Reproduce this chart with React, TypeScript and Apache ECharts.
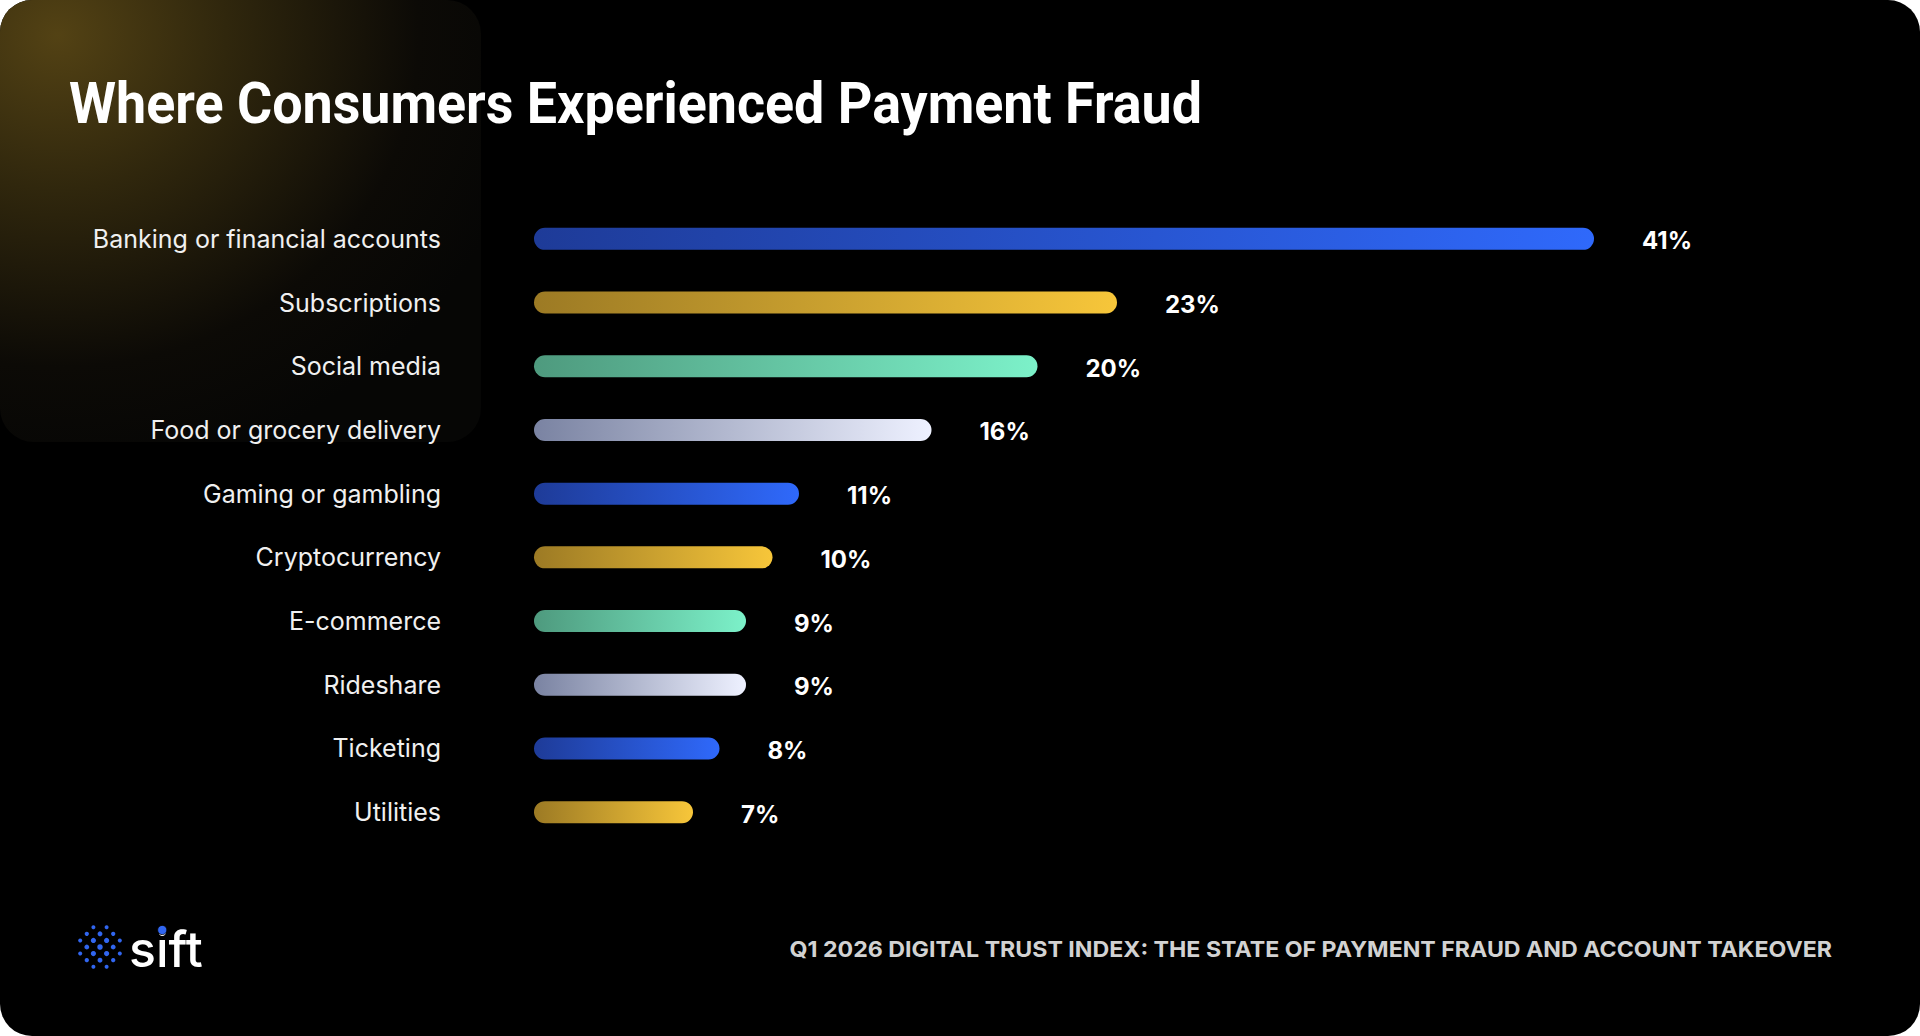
import React, { useEffect, useRef } from "react";
import * as echarts from "echarts";

const categories = [
  "Banking or financial accounts",
  "Subscriptions",
  "Social media",
  "Food or grocery delivery",
  "Gaming or gambling",
  "Cryptocurrency",
  "E-commerce",
  "Rideshare",
  "Ticketing",
  "Utilities",
];
const values = [41, 23, 20, 16, 11, 10, 9, 9, 8, 7];
const palette = [
  ["#1e3b98", "#2f69fb"],
  ["#9c7a24", "#f7c63a"],
  ["#4e9a7e", "#7cf1c9"],
  ["#7a83a2", "#eef1ff"],
];
const titleText = "Where Consumers Experienced Payment Fraud";
const footerText = "Q1 2026 DIGITAL TRUST INDEX: THE STATE OF PAYMENT FRAUD AND ACCOUNT TAKEOVER";
const logoText = "sift";

function measure(text: string, font: string): number {
  const c = document.createElement("canvas");
  const ctx = c.getContext("2d")!;
  ctx.font = font;
  return ctx.measureText(text).width;
}

export default function App() {
  const ref = useRef<HTMLDivElement>(null);
  useEffect(() => {
    document.body.style.margin = "0";
    document.body.style.background = "#ffffff";
    const chart = echarts.init(ref.current!, undefined, { renderer: "svg" });

    const titleFont = "bold 58px Roboto";
    const titleW = measure(titleText, titleFont);
    const titleScale = 1133 / titleW;
    const footFont = "bold 22px Inter";
    const footW = measure(footerText, footFont);
    const footScale = 1043 / footW;
    const logoFont = "500 50px Inter";
    const sW = measure("s", logoFont);
    const iW = measure("i", logoFont);
    const logoX = 129;

    const dots: any[] = [];
    const step = 6.6;
    for (let j = -3; j <= 3; j++) {
      for (let i = -3; i <= 3; i++) {
        if ((i + j) % 2 !== 0) continue;
        const d2 = i * i + j * j;
        if (d2 > 10) continue;
        dots.push({
          type: "circle",
          z: 10,
          shape: { cx: 100 + i * step, cy: 947 + j * step, r: 2.75 - 0.075 * d2 },
          style: { fill: "#3166f0" },
        });
      }
    }

    const option: any = {
      animation: false,
      backgroundColor: "#ffffff",
      graphic: [
        {
          type: "rect",
          z: -10,
          shape: { x: 0, y: 0, width: 1920, height: 1036, r: 32 },
          style: { fill: "#000000" },
        },
        {
          type: "rect",
          z: -9,
          shape: { x: 0, y: 0, width: 481, height: 442, r: [32, 34, 34, 34] },
          style: {
            fill: {
              type: "radial",
              x: 0.12,
              y: 0.08,
              r: 1.0,
              colorStops: [
                { offset: 0, color: "#534214" },
                { offset: 0.35, color: "#30270d" },
                { offset: 0.75, color: "#0c0a06" },
                { offset: 1, color: "#060605" },
              ],
            },
          },
        },
        {
          type: "text",
          z: 10,
          x: 69,
          y: 103,
          scaleX: titleScale,
          style: {
            text: titleText,
            font: titleFont,
            fill: "#ffffff",
            align: "left",
            verticalAlign: "middle",
          },
        },
        {
          type: "text",
          z: 10,
          x: 1832,
          y: 949,
          scaleX: footScale,
          style: {
            text: footerText,
            font: footFont,
            fill: "#d2d2d2",
            align: "right",
            verticalAlign: "middle",
          },
        },
        ...dots,
        {
          type: "text",
          z: 10,
          x: logoX,
          y: 949,
          style: {
            text: logoText,
            font: logoFont,
            fill: "#ffffff",
            align: "left",
            verticalAlign: "middle",
          },
        },
        {
          type: "circle",
          z: 11,
          shape: { cx: logoX + sW + iW / 2, cy: 930, r: 4.6 },
          style: { fill: "#3166f0", stroke: "#000", lineWidth: 0.8 },
        },
      ],
      grid: { left: 534, top: 207, width: 1325, height: 637, containLabel: false },
      xAxis: {
        type: "value",
        min: 1,
        max: 51,
        show: false,
      },
      yAxis: {
        type: "category",
        inverse: true,
        data: categories,
        axisLine: { show: false },
        axisTick: { show: false },
        splitLine: { show: false },
        axisLabel: {
          color: "#f0f0f0",
          fontSize: 25,
          fontFamily: "Inter",
          margin: 93,
        },
      },
      series: [
        {
          type: "bar",
          z: 5,
          barWidth: 22,
          data: values.map((v, idx) => {
            const p = palette[idx % palette.length];
            return {
              value: v,
              itemStyle: {
                borderRadius: 11,
                color: {
                  type: "linear",
                  x: 0,
                  y: 0,
                  x2: 1,
                  y2: 0,
                  colorStops: [
                    { offset: 0, color: p[0] },
                    { offset: 1, color: p[1] },
                  ],
                },
              },
            };
          }),
          label: {
            show: true,
            position: "right",
            distance: 48,
            offset: [0, 2],
            formatter: "{c}%",
            color: "#ffffff",
            fontFamily: "Inter",
            fontWeight: "bold",
            fontSize: 24,
          },
        },
      ],
    };
    chart.setOption(option);
    return () => chart.dispose();
  }, []);
  return <div ref={ref} style={{ width: 1920, height: 1036 }} />;
}
